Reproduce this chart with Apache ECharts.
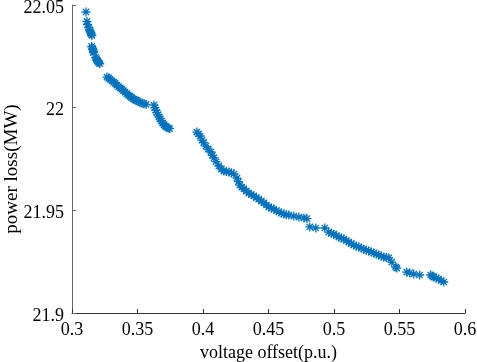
<!DOCTYPE html>
<html lang="en">
<head>
    <meta charset="UTF-8">
    <title>scatter</title>
    <script src="https://cdn.jsdelivr.net/npm/echarts@6/dist/echarts.min.js"></script>
    <style>
        * { margin: 0; padding: 0; }
        body { background-color: #fff; overflow: hidden; }
        #main { width: 477px; height: 362px; }
    </style>
</head>
<body>
<div id="main"></div>
<script type="text/javascript">
    // voltage offset (p.u.)
    var voltageOffset = [
        0.3107, 0.3114, 0.3118, 0.3128, 0.3133, 0.3138, 0.3142, 0.3148, 0.3152,
        0.3150, 0.3155, 0.3160, 0.3165, 0.3163,
        0.3180, 0.3186, 0.3192, 0.3198, 0.3205, 0.3212,
        0.3267, 0.3280, 0.3292, 0.3305, 0.3318, 0.3330, 0.3342, 0.3355, 0.3368, 0.3380,
        0.3393, 0.3405, 0.3418, 0.3430, 0.3443, 0.3455, 0.3468, 0.3480, 0.3493, 0.3505,
        0.3520, 0.3535, 0.3550, 0.3565,
        0.3625, 0.3632, 0.3640, 0.3648, 0.3656, 0.3665, 0.3673, 0.3682, 0.3692, 0.3702,
        0.3712, 0.3722, 0.3735, 0.3745,
        0.3953, 0.3965, 0.3978, 0.3992, 0.4005, 0.4022, 0.4040, 0.4060, 0.4072, 0.4083,
        0.4100, 0.4121, 0.4140, 0.4159, 0.4178, 0.4198, 0.4217, 0.4236, 0.4259, 0.4270,
        0.4281, 0.4296, 0.4312, 0.4331, 0.4350, 0.4369, 0.4388, 0.4407, 0.4426, 0.4445,
        0.4465, 0.4484, 0.4503, 0.4522, 0.4541, 0.4560, 0.4579, 0.4598, 0.4617, 0.4636,
        0.4655, 0.4693, 0.4732, 0.4770, 0.4793, 0.4815, 0.4861, 0.4930,
        0.4960, 0.4980, 0.4998, 0.5018, 0.5037, 0.5056, 0.5075, 0.5094, 0.5113, 0.5132,
        0.5151, 0.5170, 0.5189, 0.5208, 0.5227, 0.5246, 0.5265, 0.5285, 0.5304, 0.5323,
        0.5342, 0.5361, 0.5380, 0.5400, 0.5418, 0.5441, 0.5471, 0.5479,
        0.5555, 0.5578, 0.5609, 0.5654, 0.5738, 0.5750, 0.5761, 0.5780, 0.5799, 0.5818, 0.5838
    ];
    // power loss (MW)
    var powerLoss = [
        22.0466, 22.0420, 22.0405, 22.0390, 22.0380, 22.0372, 22.0364, 22.0358, 22.0352,
        22.0298, 22.0290, 22.0282, 22.0274, 22.0268,
        22.0245, 22.0238, 22.0230, 22.0224, 22.0219, 22.0214,
        22.0149, 22.0144, 22.0138, 22.0131, 22.0124, 22.0118, 22.0110, 22.0103, 22.0096, 22.0090,
        22.0083, 22.0076, 22.0068, 22.0061, 22.0055, 22.0049, 22.0043, 22.0038, 22.0035, 22.0031,
        22.0026, 22.0022, 22.0019, 22.0016,
        22.0012, 22.0000, 21.9988, 21.9976, 21.9966, 21.9955, 21.9945, 21.9935, 21.9925, 21.9917,
        21.9910, 21.9905, 21.9901, 21.9898,
        21.9881, 21.9872, 21.9862, 21.9842, 21.9830, 21.9813, 21.9798, 21.9784, 21.9768, 21.9755,
        21.9737, 21.9716, 21.9702, 21.9691, 21.9689, 21.9687, 21.9682, 21.9677, 21.9657, 21.9640,
        21.9623, 21.9613, 21.9604, 21.9594, 21.9584, 21.9577, 21.9570, 21.9562, 21.9555, 21.9545,
        21.9536, 21.9526, 21.9516, 21.9511, 21.9506, 21.9499, 21.9492, 21.9487, 21.9482, 21.9479,
        21.9477, 21.9472, 21.9467, 21.9463, 21.9460, 21.9419, 21.9414, 21.9414,
        21.9394, 21.9388, 21.9384, 21.9377, 21.9370, 21.9365, 21.9360, 21.9353, 21.9345, 21.9338,
        21.9331, 21.9326, 21.9321, 21.9316, 21.9311, 21.9306, 21.9302, 21.9297, 21.9292, 21.9287,
        21.9282, 21.9277, 21.9272, 21.9270, 21.9268, 21.9248, 21.9224, 21.9219,
        21.9199, 21.9195, 21.9190, 21.9185, 21.9185, 21.9180, 21.9175, 21.9170, 21.9165, 21.9158, 21.9151
    ];
    var xTicks = [0.3, 0.35, 0.4, 0.45, 0.5, 0.55, 0.6];
    var yTicks = [21.9, 21.95, 22, 22.05];

    var points = [];
    for (var i = 0; i < voltageOffset.length; i++) {
        points.push([voltageOffset[i], powerLoss[i]]);
    }

    // asterisk marker (stroked lines)
    var asterisk = 'path://M0,-10L0,10M-10,0L10,0M-7,-7L7,7M-7,7L7,-7';
    var font = "'Liberation Serif', 'Times New Roman', serif";

    var myChart = echarts.init(document.getElementById('main'));
    var option = {
        animation: false,
        grid: { left: 72, right: 12, top: 5, bottom: 49, outerBoundsMode: 'none', containLabel: false },
        xAxis: {
            type: 'value',
            min: xTicks[0],
            max: xTicks[xTicks.length - 1],
            interval: 0.05,
            name: 'voltage offset(p.u.)',
            nameLocation: 'middle',
            nameGap: 31,
            nameMoveOverlap: false,
            nameTextStyle: { color: '#000', fontSize: 18, fontFamily: font },
            splitLine: { show: false },
            axisLine: { lineStyle: { color: '#333', width: 1 } },
            axisTick: { inside: true, length: 4, lineStyle: { color: '#333' } },
            axisLabel: { color: '#000', fontSize: 18, fontFamily: font, margin: 8 }
        },
        yAxis: {
            type: 'value',
            min: yTicks[0],
            max: yTicks[yTicks.length - 1],
            interval: 0.05,
            name: 'power loss(MW)',
            nameLocation: 'middle',
            nameGap: 50,
            nameMoveOverlap: false,
            nameTextStyle: { color: '#000', fontSize: 19, fontFamily: font, padding: [0, 20, 0, 0] },
            splitLine: { show: false },
            axisLine: { show: true, lineStyle: { color: '#666', width: 1 } },
            axisTick: { show: true, inside: true, length: 4, lineStyle: { color: '#666' } },
            axisLabel: { color: '#000', fontSize: 18, fontFamily: font, margin: 8, verticalAlign: 'top', lineHeight: 6 }
        },
        series: [{
            type: 'scatter',
            data: points,
            symbol: asterisk,
            symbolSize: 9,
            itemStyle: { color: 'none', borderColor: '#0072BD', borderWidth: 1.3, opacity: 1 }
        }]
    };
    myChart.setOption(option);
</script>
</body>
</html>
